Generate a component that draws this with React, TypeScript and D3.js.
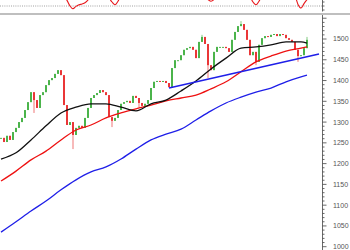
import React from "react";
import * as d3 from "d3";

const W = 350;
const H = 250;

// daily closes (one per trading day)
const closes = [
  1262, 1252, 1267, 1257, 1276, 1286, 1300, 1310, 1329, 1348,
  1372, 1353, 1334, 1365, 1372, 1389, 1401, 1406, 1416, 1425,
  1413, 1341, 1293, 1300, 1269, 1286, 1291, 1286, 1310, 1334,
  1358, 1365, 1370, 1377, 1372, 1365, 1312, 1303, 1310, 1329,
  1344, 1348, 1351, 1346, 1363, 1358, 1346, 1339, 1344, 1353,
  1382, 1397, 1399, 1397, 1399, 1394, 1384, 1430, 1449, 1449,
  1461, 1474, 1478, 1481, 1474, 1454, 1493, 1505, 1488, 1437,
  1425, 1469, 1481, 1481, 1481, 1478, 1469, 1498, 1517, 1531,
  1536, 1522, 1498, 1461, 1469, 1445, 1486, 1502, 1507, 1505,
  1510, 1512, 1507, 1512, 1510, 1502, 1498, 1493, 1474, 1459,
  1461, 1478, 1498,
];

const wickLows: [number, number][] = [
  [11, 1322], [24, 1235], [37, 1288], [46, 1336], [69, 1406], [85, 1437], [99, 1445],
];
const wickHighs: [number, number][] = [[80, 1543], [67, 1510], [102, 1505]];

const maDays = [0, 5, 10, 15, 20, 25, 30, 35, 40, 45, 50, 55, 60, 65, 70, 75, 80, 85, 90, 95, 100, 102];
const maBlack = [1211, 1226, 1257, 1291, 1322, 1336, 1344, 1344, 1336, 1327, 1344, 1353, 1375, 1399, 1428, 1454, 1478, 1481, 1486, 1493, 1493, 1490];
const maRed = [1158, 1182, 1209, 1230, 1257, 1281, 1293, 1310, 1322, 1332, 1341, 1351, 1358, 1365, 1380, 1397, 1421, 1445, 1459, 1471, 1478, 1481];
const maBlue = [1035, 1060, 1086, 1110, 1137, 1161, 1180, 1192, 1211, 1235, 1257, 1271, 1283, 1305, 1327, 1346, 1360, 1372, 1382, 1397, 1409, 1413];

const trendDays = [56, 106];
const trendValues = [1382, 1464];

const oscDays = [0, 5, 10, 15, 20, 21, 22, 23, 24, 25, 26, 27, 28, 29, 30, 33, 36, 37, 38, 39, 40, 45, 50, 55, 60, 65, 68, 69, 70, 71, 72, 76, 80, 83, 84, 85, 86, 87, 90, 94, 97, 98, 99, 100, 101, 102];
const oscValues = [97, 95, 98, 96, 95, 92, 87, 80, 76.5, 79.5, 81.5, 82.5, 84, 87.5, 93, 96, 90, 85, 81.5, 86, 92, 97, 96, 98, 95, 97, 91, 88, 86, 88, 92, 97, 96, 91, 85, 81.5, 86, 92, 96, 97, 94, 92, 82, 77.5, 83, 88];

const labelTicks = d3.range(1000, 1501, 50);
const minorTicks = d3.range(1000, 1551, 10);

export default function App() {
  const x = d3.scaleLinear().domain([0, 102]).range([1, 307]);
  const y = d3.scaleLinear().domain([1000, 1500]).range([246.7, 39]);
  const oy = d3.scaleLinear().domain([70, 100]).range([14, -10]);
  const axisX = 322.5;

  const maLine = d3
    .line<number>()
    .x((_, i) => x(maDays[i]))
    .y((v) => y(v))
    .curve(d3.curveMonotoneX);
  const oscLine = d3
    .line<number>()
    .x((_, i) => x(oscDays[i]))
    .y((v) => oy(v))
    .curve(d3.curveMonotoneX);

  const lowMap = new Map(wickLows);
  const highMap = new Map(wickHighs);

  const candles = closes.map((c, i) => {
    const o = i === 0 ? c : closes[i - 1];
    const up = c >= o;
    const top = Math.max(o, c);
    const bot = Math.min(o, c);
    const hi = highMap.has(i) ? (highMap.get(i) as number) : top;
    const lo = lowMap.has(i) ? (lowMap.get(i) as number) : bot;
    const col = up ? "#3fae3f" : "#e8282a";
    const yt = y(top);
    const yb = y(bot);
    return (
      <g key={i}>
        <line x1={x(i)} x2={x(i)} y1={y(hi)} y2={y(lo)} stroke={col} strokeWidth={0.8} opacity={0.8} />
        <rect x={x(i) - 0.9} width={1.8} y={yt} height={Math.max(1, yb - yt)} fill={col} />
      </g>
    );
  });

  return (
    <div style={{ position: "fixed", left: 0, top: 0, width: W, height: H, background: "#fff" }}>
      <svg width={W} height={H} style={{ display: "block" }} fontFamily="Liberation Sans, Arial, sans-serif">
        <rect width={W} height={H} fill="#fff" />
        {/* top oscillator panel */}
        <line x1={0} x2={axisX} y1={oy(80)} y2={oy(80)} stroke="#888" strokeWidth={0.8} strokeDasharray="1,1.2" />
        <path d={oscLine(oscValues) || ""} fill="none" stroke="#e8181c" strokeWidth={1.1} />
        <line x1={axisX} x2={axisX} y1={0} y2={11.5} stroke="#444" strokeWidth={0.8} />
        {[2, 6, 10].map((t) => (
          <line key={t} x1={axisX} x2={axisX + 2} y1={t} y2={t} stroke="#444" strokeWidth={0.8} />
        ))}
        <line x1={0} x2={W} y1={14} y2={14} stroke="#aaa" strokeWidth={1.3} />

        {/* main panel */}
        {candles}
        <path d={maLine(maBlue) || ""} fill="none" stroke="#1f1fe8" strokeWidth={1.3} />
        <path d={maLine(maRed) || ""} fill="none" stroke="#ee1111" strokeWidth={1.3} />
        <path d={maLine(maBlack) || ""} fill="none" stroke="#111" strokeWidth={1.3} />
        <line
          x1={x(trendDays[0])}
          x2={x(trendDays[1])}
          y1={y(trendValues[0])}
          y2={y(trendValues[1])}
          stroke="#1f1fe8"
          strokeWidth={1.5}
        />

        {/* right axis */}
        <line x1={axisX} x2={axisX} y1={15} y2={H} stroke="#444" strokeWidth={0.8} />
        {minorTicks.map((t) => (
          <line
            key={t}
            x1={axisX}
            x2={axisX + (t % 50 === 0 ? 4 : 2)}
            y1={y(t)}
            y2={y(t)}
            stroke="#444"
            strokeWidth={0.8}
          />
        ))}
        {labelTicks.map((t) => (
          <text key={t} x={333} y={y(t)} dy="0.35em" fontSize={7} fill="#555">
            {t}
          </text>
        ))}
      </svg>
    </div>
  );
}
